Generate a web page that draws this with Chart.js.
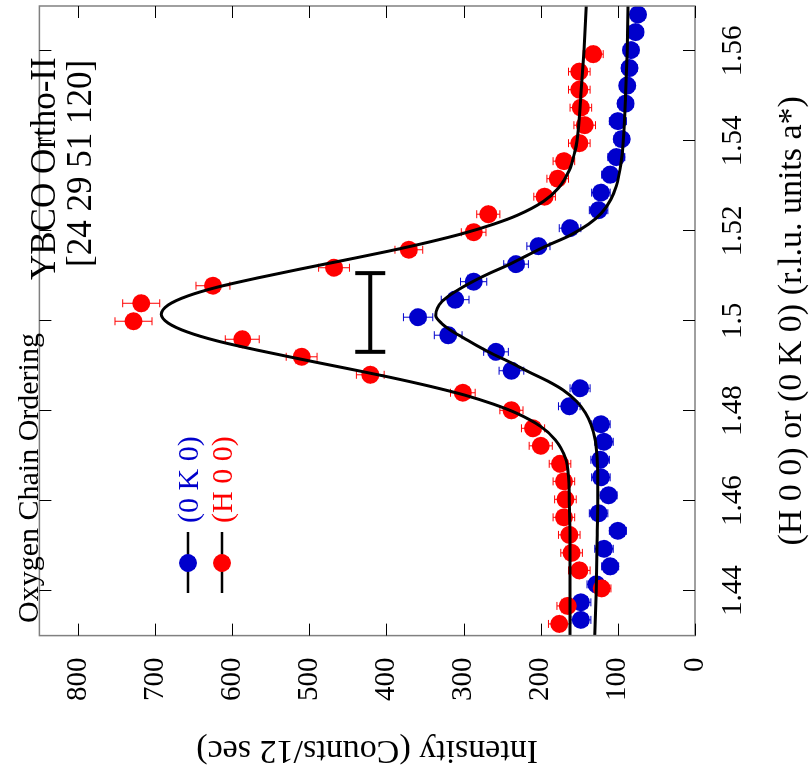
<!DOCTYPE html>
<html>
<head>
<meta charset="utf-8">
<script src="https://cdn.jsdelivr.net/npm/chart.js@4.4.0/dist/chart.umd.min.js"></script>
<style>
  html, body { margin: 0; padding: 0; background: #fff; }
  #wrap { position: relative; width: 812px; height: 772px; overflow: hidden; background: #fff; }
  /* the figure is drawn upright and turned a quarter turn counter-clockwise */
  #box { position: absolute; left: 0; top: 0; width: 775px; height: 812px;
         transform-origin: 0 0; transform: translateY(772px) rotate(-90deg); }
</style>
</head>
<body>
<div id="wrap"><div id="box"><canvas id="chart" width="775" height="812"></canvas></div></div>
<script>
// ---------------------------------------------------------------------------
// DATA
// ---------------------------------------------------------------------------
const hTicks = [1.44, 1.46, 1.48, 1.5, 1.52, 1.54, 1.56];
const hTickLabels = ['1.44', '1.46', '1.48', '1.5', '1.52', '1.54', '1.56'];
const iTicks = [0, 100, 200, 300, 400, 500, 600, 700, 800];

// (H 0 0) scan, red
const redH = [1.4326, 1.4366, 1.4405, 1.4445, 1.4484, 1.4524, 1.4563, 1.4603, 1.4643, 1.4682,
              1.4722, 1.4761, 1.4801, 1.4840, 1.4880, 1.4920, 1.4959, 1.4999, 1.5039, 1.5078,
              1.5118, 1.5158, 1.5197, 1.5237, 1.5276, 1.5316, 1.5355, 1.5395, 1.5435, 1.5474,
              1.5514, 1.5554, 1.5593];
const redI = [176, 165, 121, 150, 160, 163, 170, 168, 170, 175,
              200, 210, 238, 301, 421, 510, 587, 728, 718, 625,
              468, 371, 287, 268, 195, 178, 170, 150, 143, 148,
              150, 150, 132];
const redErr = [14, 14, 12, 14, 14, 14, 14, 14, 14, 14,
                15, 15, 15, 16, 18, 20, 22, 24, 24, 22,
                20, 18, 16, 15, 14, 14, 14, 14, 14, 14,
                14, 14, 13];

// (0 K 0) scan, blue
const blueH = [1.4335, 1.4374, 1.4414, 1.4454, 1.4493, 1.4533, 1.4572, 1.4612, 1.4652, 1.4691,
               1.4731, 1.4770, 1.4810, 1.4850, 1.4889, 1.4931, 1.4968, 1.5008, 1.5047, 1.5087,
               1.5126, 1.5166, 1.5206, 1.5246, 1.5285, 1.5325, 1.5364, 1.5404, 1.5444, 1.5483,
               1.5523, 1.5562, 1.5602, 1.5642, 1.5681];
const blueI = [148, 148, 128, 110, 118, 100, 125, 112, 122, 123,
               118, 122, 163, 149, 238, 258, 320, 359, 311, 287,
               232, 203, 162, 125, 122, 110, 102, 95, 100, 90,
               88, 85, 83, 77, 74];
const blueErr = [13, 13, 12, 11, 12, 11, 12, 11, 12, 12,
                 12, 12, 14, 13, 16, 16, 18, 19, 18, 17,
                 16, 15, 14, 12, 12, 11, 11, 10, 11, 10,
                 10, 10, 10, 10, 10];

// fitted curves
const redFitH = [1.43, 1.44, 1.45, 1.46, 1.4655, 1.4695, 1.4735, 1.4765, 1.4795, 1.4815,
                 1.4835, 1.4855, 1.4875, 1.4895, 1.4915, 1.4935, 1.4955, 1.4975, 1.4995, 1.50145,
                 1.5035, 1.5055, 1.5075, 1.5095, 1.5115, 1.5135, 1.5155, 1.5175, 1.5195, 1.5215,
                 1.5235, 1.5265, 1.5295, 1.5335, 1.5375, 1.54, 1.55, 1.56, 1.57];
const redFit  = [162, 162, 162, 163, 164, 168, 181, 200, 232, 262,
                 299, 345, 397, 454, 512, 568, 619, 658, 683, 692,
                 683, 658, 619, 568, 512, 454, 397, 345, 299, 261,
                 230, 197, 177, 163, 156, 153, 148, 144, 141];
const blueFitH = [1.43, 1.44, 1.45, 1.46, 1.465, 1.47, 1.474, 1.477, 1.4795, 1.482,
                  1.4846, 1.4866, 1.4886, 1.4908, 1.4926, 1.4945, 1.4962, 1.4978, 1.4995, 1.5012,
                  1.5028, 1.5043, 1.5058, 1.5073, 1.509, 1.5106, 1.5122, 1.5139, 1.5164, 1.519,
                  1.5215, 1.524, 1.527, 1.53, 1.535, 1.54, 1.55, 1.56, 1.57];
const blueFit  = [130, 128, 127, 126, 126, 127, 130, 135, 142, 153,
                  171, 191, 215, 240, 262, 283, 300, 316, 329, 336,
                  334, 328, 317, 303, 285, 266, 245, 225, 196, 162,
                  138, 121, 109, 102, 96, 93, 90, 88, 87];

// instrumental resolution bar (H range) drawn at one intensity
const resBarH = [1.4931, 1.5106];
const resBarI = 421;

const RED = '#ff0000';
const BLUE = '#0000cc';
const FONT = "'Liberation Serif', 'Times New Roman', serif";

function pts(xs, ys) {
    return xs.map((x, i) => ({ x: x, y: ys[i] }));
}

// ---------------------------------------------------------------------------
// FRAME, ERROR BARS, NOTES
// ---------------------------------------------------------------------------
const figurePlugin = {
    id: 'figure',
    beforeDatasetsDraw(chart) {
        const ctx = chart.ctx;
        const xs = chart.scales.x, ys = chart.scales.y;
        ctx.save();
        ctx.lineWidth = 1;
        [[redH, redI, redErr, RED], [blueH, blueI, blueErr, BLUE]].forEach(([hs, is, es, col]) => {
            ctx.strokeStyle = col;
            hs.forEach((h, i) => {
                const px = xs.getPixelForValue(h);
                const y1 = ys.getPixelForValue(is[i] - es[i]);
                const y2 = ys.getPixelForValue(is[i] + es[i]);
                ctx.beginPath();
                ctx.moveTo(px, y1); ctx.lineTo(px, y2);
                ctx.moveTo(px - 4, y1); ctx.lineTo(px + 4, y1);
                ctx.moveTo(px - 4, y2); ctx.lineTo(px + 4, y2);
                ctx.stroke();
            });
        });
        ctx.restore();
    },
    afterDatasetsDraw(chart) {
        const ctx = chart.ctx;
        const a = chart.chartArea;
        const xs = chart.scales.x, ys = chart.scales.y;
        ctx.save();

        // frame
        ctx.strokeStyle = '#808080';
        ctx.lineWidth = 1.5;
        ctx.strokeRect(a.left, a.top, a.right - a.left, a.bottom - a.top);

        // inward ticks on all four sides
        ctx.strokeStyle = '#000';
        ctx.lineWidth = 1;
        ctx.beginPath();
        hTicks.forEach(h => {
            const px = Math.round(xs.getPixelForValue(h)) + 0.5;
            ctx.moveTo(px, a.bottom); ctx.lineTo(px, a.bottom - 12);
            ctx.moveTo(px, a.top); ctx.lineTo(px, a.top + 12);
        });
        iTicks.forEach(v => {
            const py = Math.round(ys.getPixelForValue(v)) + 0.5;
            ctx.moveTo(a.left, py); ctx.lineTo(a.left + 12, py);
            ctx.moveTo(a.right, py); ctx.lineTo(a.right - 12, py);
        });
        ctx.stroke();

        // resolution bar
        const rx1 = xs.getPixelForValue(resBarH[0]);
        const rx2 = xs.getPixelForValue(resBarH[1]);
        const ry = ys.getPixelForValue(resBarI);
        ctx.lineWidth = 4;
        ctx.beginPath();
        ctx.moveTo(rx1, ry); ctx.lineTo(rx2, ry);
        ctx.moveTo(rx1, ry - 15); ctx.lineTo(rx1, ry + 15);
        ctx.moveTo(rx2, ry - 15); ctx.lineTo(rx2, ry + 15);
        ctx.stroke();

        // notes
        ctx.fillStyle = '#000';
        ctx.textBaseline = 'alphabetic';
        ctx.textAlign = 'left';
        ctx.font = '30px ' + FONT;
        ctx.fillText('Oxygen Chain Ordering', 149, 38);
        ctx.font = '35px ' + FONT;
        ctx.fillText('YBCO Ortho-II', 492, 55);
        ctx.fillText('[24 29 51 120]', 505, 91);

        // legend
        [[BLUE, '(0 K 0)', 188], [RED, '(H 0 0)', 222]].forEach(([col, txt, v]) => {
            ctx.strokeStyle = '#000';
            ctx.lineWidth = 2.5;
            ctx.beginPath();
            ctx.moveTo(179, v); ctx.lineTo(240, v);
            ctx.stroke();
            ctx.fillStyle = col;
            ctx.beginPath();
            ctx.arc(209, v, 9, 0, Math.PI * 2);
            ctx.fill();
            ctx.font = '30px ' + FONT;
            ctx.textBaseline = 'middle';
            ctx.fillText(txt, 249, v + 2);
        });
        ctx.restore();
    }
};

// ---------------------------------------------------------------------------
// CHART
// ---------------------------------------------------------------------------
new Chart(document.getElementById('chart'), {
    type: 'scatter',
    data: {
        datasets: [
            {
                label: 'H fit', data: pts(redFitH, redFit), showLine: true,
                cubicInterpolationMode: 'monotone',
                borderColor: '#000', borderWidth: 3, pointRadius: 0, order: 1
            },
            {
                label: 'K fit', data: pts(blueFitH, blueFit), showLine: true,
                cubicInterpolationMode: 'monotone',
                borderColor: '#000', borderWidth: 3, pointRadius: 0, order: 1
            },
            {
                label: '(H 0 0)', data: pts(redH, redI), pointRadius: 9,
                backgroundColor: RED, borderWidth: 0, order: 2
            },
            {
                label: '(0 K 0)', data: pts(blueH, blueI), pointRadius: 9,
                backgroundColor: BLUE, borderWidth: 0, order: 2
            }
        ]
    },
    options: {
        responsive: false,
        animation: false,
        layout: { padding: { top: 7.5, right: 0, left: 0, bottom: 0 } },
        plugins: { legend: { display: false }, tooltip: { enabled: false } },
        scales: {
            x: {
                type: 'linear', min: 1.43, max: 1.57,
                afterBuildTicks: s => { s.ticks = hTicks.map(v => ({ value: v })); },
                afterFit: s => { s.height = 117; },
                grid: { display: false, drawTicks: false },
                border: { display: false },
                ticks: {
                    padding: 21, color: '#000',
                    font: { family: FONT, size: 29 },
                    callback: v => hTickLabels[hTicks.indexOf(v)]
                },
                title: {
                    display: true, text: '(H 0 0) or (0 K 0) (r.l.u. units a*)',
                    color: '#000', font: { family: FONT, size: 34 },
                    padding: { top: 0, bottom: 0 }
                }
            },
            y: {
                type: 'linear', min: 0, max: 850,
                afterBuildTicks: s => { s.ticks = iTicks.map(v => ({ value: v })); },
                afterFit: s => { s.width = 136.4; },
                grid: { display: false, drawTicks: false },
                border: { display: false },
                ticks: {
                    padding: 22, color: '#000',
                    font: { family: FONT, size: 29 }
                },
                title: {
                    display: true, text: 'Intensity (Counts/12 sec)',
                    color: '#000', font: { family: FONT, size: 34 },
                    padding: { top: 2, bottom: 0 }
                }
            }
        }
    },
    plugins: [figurePlugin]
});
</script>
</body>
</html>
